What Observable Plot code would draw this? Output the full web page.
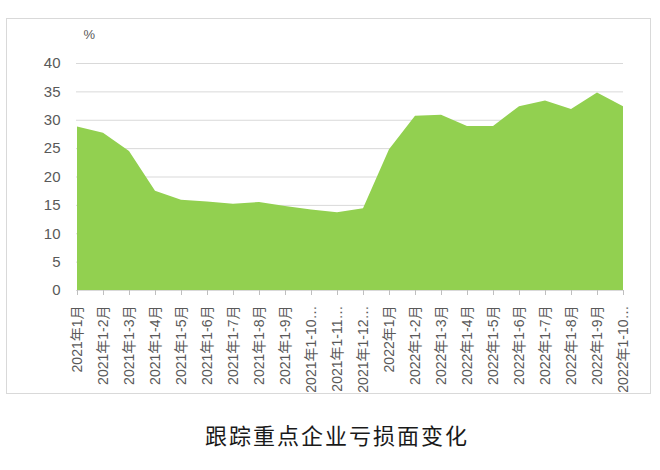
<!DOCTYPE html>
<html>
<head>
<meta charset="utf-8">
<script src="https://cdn.jsdelivr.net/npm/d3@7"></script>
<script src="https://cdn.jsdelivr.net/npm/@observablehq/plot@0.6"></script>
<style>
  html, body { margin: 0; padding: 0; background: #fff; width: 660px; height: 470px; overflow: hidden; }
  #frame { position: absolute; left: 6px; top: 18px; width: 645px; height: 376px; border: 1px solid #d9d9d9; box-sizing: border-box; }
  #chart { position: absolute; left: 0; top: 0; }
  #title { position: absolute; top: 418px; left: 0; width: 674px; text-align: center; font-family: "Noto Sans CJK SC", sans-serif; font-size: 22px; letter-spacing: 2px; color: #1a1a1a; }
</style>
</head>
<body>
<div id="frame"></div>
<div id="chart"></div>
<div id="title">跟踪重点企业亏损面变化</div>
<script>
const categories = [
  "2021年1月", "2021年1-2月", "2021年1-3月", "2021年1-4月", "2021年1-5月", "2021年1-6月",
  "2021年1-7月", "2021年1-8月", "2021年1-9月", "2021年1-10月", "2021年1-11月", "2021年1-12月",
  "2022年1月", "2022年1-2月", "2022年1-3月", "2022年1-4月", "2022年1-5月", "2022年1-6月",
  "2022年1-7月", "2022年1-8月", "2022年1-9月", "2022年1-10月"
];
const lossShare = [
  28.8, 27.7, 24.5, 17.5, 15.9, 15.6, 15.2, 15.5, 14.8, 14.2, 13.7, 14.4,
  24.8, 30.7, 30.9, 28.9, 28.9, 32.4, 33.4, 31.9, 34.8, 32.4
];
const yTicks = [0, 5, 10, 15, 20, 25, 30, 35, 40];

const data = categories.map((c, i) => ({ label: c, value: lossShare[i] }));
const fontFam = '"Liberation Sans", "Noto Sans CJK SC", sans-serif';

const chart = Plot.plot({
  width: 660,
  height: 400,
  marginLeft: 76,
  marginRight: 37,
  marginTop: 63,
  marginBottom: 110,
  style: { fontFamily: fontFam, background: "transparent", color: "#595959" },
  x: { type: "point", domain: categories, padding: 0 },
  y: { domain: [0, 40] },
  marks: [
    Plot.gridY(yTicks, { stroke: "#d9d9d9", strokeOpacity: 1, strokeWidth: 1 }),
    Plot.areaY(data, { x: "label", y: "value", fill: "#92d050" }),
    Plot.axisY(yTicks, { tickSize: 0, tickPadding: 16, fontSize: 15, fill: "#595959", label: null }),
    Plot.axisX({
      tickRotate: -90, tickSize: 5, tickPadding: 10, fontSize: 14, fill: "#595959",
      stroke: "#bfbfbf", label: null,
      tickFormat: d => d.length >= 10 ? d.slice(0, 9) + "…" : d
    }),
    Plot.text(["%"], { frameAnchor: "top-left", lineAnchor: "middle", dx: 7, dy: -29, fontSize: 13, fill: "#595959" })
  ]
});
document.getElementById("chart").appendChild(chart);
</script>
</body>
</html>
